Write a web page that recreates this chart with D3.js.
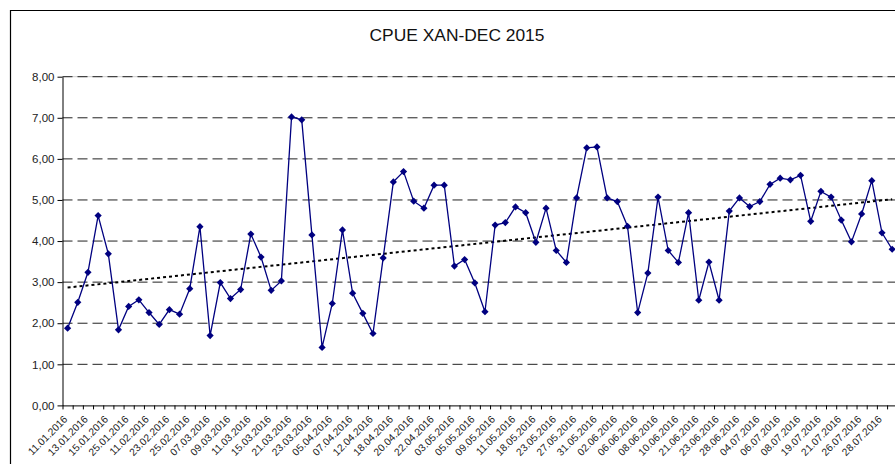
<!DOCTYPE html>
<html>
<head>
<meta charset="utf-8">
<script src="https://cdn.jsdelivr.net/npm/d3@7"></script>
<style>
body{margin:0;background:#fff;}
svg{display:block;font-family:"Liberation Sans",Arial,sans-serif;}
</style>
</head>
<body>
<svg id="chart" width="895" height="464"></svg>
<script>
// CPUE values, one per sampling day (82 days)
var cpue = [1.88,2.51,3.24,4.62,3.69,1.84,2.41,2.57,2.26,1.97,
	2.33,2.22,2.84,4.35,1.70,2.99,2.60,2.82,4.17,3.61,
	2.80,3.03,7.02,6.95,4.15,1.41,2.48,4.27,2.73,2.24,
	1.75,3.59,5.44,5.69,4.97,4.80,5.36,5.36,3.39,3.55,
	2.98,2.28,4.39,4.45,4.83,4.69,3.97,4.80,3.77,3.48,
	5.05,6.27,6.29,5.05,4.96,4.36,2.26,3.22,5.07,3.77,
	3.48,4.69,2.56,3.49,2.56,4.73,5.05,4.84,4.96,5.38,
	5.53,5.49,5.60,4.48,5.21,5.07,4.51,3.98,4.66,5.47,
	4.20,3.80];

// only every other day is labelled on the axis
var tickLabels = ["11.01.2016","13.01.2016","15.01.2016","25.01.2016","11.02.2016","23.02.2016",
	"25.02.2016","07.03.2016","09.03.2016","11.03.2016","15.03.2016","21.03.2016","23.03.2016",
	"05.04.2016","07.04.2016","12.04.2016","18.04.2016","20.04.2016","22.04.2016","03.05.2016",
	"05.05.2016","09.05.2016","11.05.2016","18.05.2016","23.05.2016","27.05.2016","31.05.2016",
	"02.06.2016","06.06.2016","08.06.2016","10.06.2016","21.06.2016","23.06.2016","28.06.2016",
	"04.07.2016","06.07.2016","08.07.2016","19.07.2016","21.07.2016","26.07.2016","28.07.2016"];

var yTicks = [0,1,2,3,4,5,6,7,8];

const svg = d3.select("#chart");
var W = 895;
var plotLeft = 62.5, plotTop = 76.7, plotBottom = 405.4;
var band = 10.18;
var n = cpue.length;
var plotRight = plotLeft + n*band;

var fmt = d3.formatLocale({decimal:",",thousands:".",grouping:[3],currency:["","€"]}).format(".2f");

var x = d3.scaleBand()
	.domain(d3.range(n))
	.range([plotLeft, plotRight]);
var xEdge = d3.scaleLinear()
	.domain([0,n])
	.range([plotLeft, plotRight]);
var y = d3.scaleLinear()
	.domain([0,8])
	.range([plotBottom, plotTop]);

// chart area border (cropped on the right and bottom)
svg.append("path")
	.attr("d","M10.5,"+464+"V10.5H"+W)
	.attr("fill","none")
	.attr("stroke","#000")
	.attr("stroke-width",1.2);

// title
svg.append("text")
	.attr("x",457)
	.attr("y",41)
	.attr("text-anchor","middle")
	.style("font-size","17.4px")
	.attr("fill","#111")
	.text("CPUE XAN-DEC 2015");

// gridlines
svg.append("line")
	.attr("x1",plotLeft).attr("x2",W)
	.attr("y1",y(8)).attr("y2",y(8))
	.attr("stroke","#ccc");
svg.append("g")
	.selectAll("line")
	.data(yTicks.filter(function(d){return d>0;}))
	.enter()
	.append("line")
	.attr("x1",plotLeft)
	.attr("x2",W)
	.attr("y1",function(d){return y(d);})
	.attr("y2",function(d){return y(d);})
	.attr("stroke","#222")
	.attr("stroke-dasharray","10,5");

// y axis
var yAxis = d3.axisLeft(y)
	.tickValues(yTicks)
	.tickSize(5)
	.tickSizeOuter(0)
	.tickFormat(fmt);
svg.append("g")
	.attr("transform","translate("+plotLeft+",0)")
	.call(yAxis)
	.call(function(g){
		g.select(".domain").attr("stroke","#000");
		g.selectAll("text").style("font-size","11.5px").attr("fill","#222").attr("x",-8);
	});

// x axis ticks on category boundaries
var xAxis = d3.axisBottom(xEdge)
	.tickValues(d3.range(n+1))
	.tickSize(4)
	.tickSizeOuter(0)
	.tickFormat("");
svg.append("g")
	.attr("transform","translate(0,"+plotBottom+")")
	.call(xAxis)
	.call(function(g){
		g.select(".domain").attr("d","M"+plotLeft+",0.5H"+W);
	});

// date labels, every other category
var xLabels = d3.axisBottom(x)
	.tickValues(d3.range(0,n,2))
	.tickSize(0)
	.tickFormat(function(i){return tickLabels[i/2];});
svg.append("g")
	.attr("transform","translate(0,"+plotBottom+")")
	.call(xLabels)
	.call(function(g){
		g.select(".domain").remove();
		g.selectAll("text")
			.style("font-size","10.3px")
			.attr("fill","#222")
			.attr("y",0)
			.attr("dy","0.35em")
			.attr("transform","translate(-2,12) rotate(-45)")
			.style("text-anchor","end");
	});

// linear trend from least squares fit of the series
var xs = d3.range(n);
var mx = d3.mean(xs), my = d3.mean(cpue);
var sxy = d3.sum(xs,function(i){return (i-mx)*(cpue[i]-my);});
var sxx = d3.sum(xs,function(i){return (i-mx)*(i-mx);});
var slope = sxy/sxx, icpt = my - slope*mx;
var cx = function(i){return x(i)+x.bandwidth()/2;};
svg.append("line")
	.attr("x1",cx(0)).attr("y1",y(icpt))
	.attr("x2",cx(n-1)).attr("y2",y(icpt+slope*(n-1)))
	.attr("stroke","#000")
	.attr("stroke-width",2)
	.attr("stroke-dasharray","3,3");

// series line
var line = d3.line()
	.x(function(d,i){return cx(i);})
	.y(function(d){return y(d);});
svg.append("path")
	.datum(cpue)
	.attr("d",line)
	.attr("fill","none")
	.attr("stroke","#000080")
	.attr("stroke-width",1.3);

// diamond markers
var marker = d3.symbol().type(d3.symbolSquare).size(26);
svg.append("g")
	.selectAll("path")
	.data(cpue)
	.enter()
	.append("path")
	.attr("d",marker)
	.attr("transform",function(d,i){return "translate("+cx(i)+","+y(d)+") rotate(45)";})
	.attr("fill","#000080");
</script>
</body>
</html>
